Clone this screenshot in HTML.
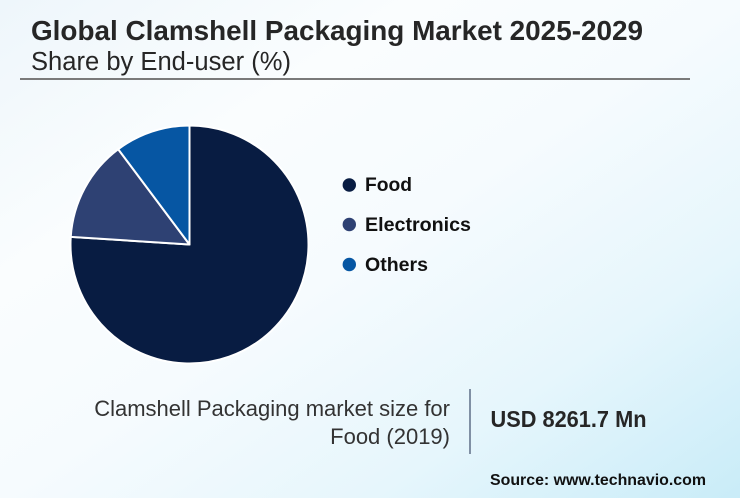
<!DOCTYPE html>
<html>
<head>
<meta charset="utf-8">
<style>
  html, body { margin:0; padding:0; }
  body { width:740px; height:498px; overflow:hidden; }
  .bg {
    position:absolute; left:0; top:0; width:740px; height:498px;
    background: linear-gradient(to bottom right, #eef6fb 0%, #fafdfe 28%, #f6fbfe 50%, #e6f6fc 75%, #c9ecf8 100%);
  }
  svg { position:absolute; left:0; top:0; }
  text { font-family: "Liberation Sans", Arial, sans-serif; }
</style>
</head>
<body>
<div class="bg"></div>
<svg width="740" height="498" viewBox="0 0 740 498" xmlns="http://www.w3.org/2000/svg">
  <!-- Title -->
  <text x="31" y="40" font-size="27.5" font-weight="bold" fill="#262626" textLength="612" lengthAdjust="spacingAndGlyphs">Global Clamshell Packaging Market 2025-2029</text>
  <text x="31" y="70" font-size="25.5" fill="#262626" textLength="260" lengthAdjust="spacingAndGlyphs">Share by End-user (%)</text>
  <rect x="20" y="78" width="670" height="2" fill="#7a7a7a"/>

  <!-- Pie -->
  <g stroke="#ffffff" stroke-width="2" stroke-linejoin="round">
    <path d="M189.5,244.5 L189.5,125.5 A119,119 0 1 1 70.75,236.82 Z" fill="#081c42"/>
    <path d="M189.5,244.5 L70.75,236.82 A119,119 0 0 1 118.22,149.22 Z" fill="#2e4173"/>
    <path d="M189.5,244.5 L118.22,149.22 A119,119 0 0 1 189.5,125.5 Z" fill="#0656a3"/>
  </g>

  <!-- Legend -->
  <circle cx="349.3" cy="185" r="6.7" fill="#081c42"/>
  <text x="365" y="191" font-size="19" font-weight="bold" fill="#111" textLength="47" lengthAdjust="spacingAndGlyphs">Food</text>
  <circle cx="349.3" cy="224.5" r="6.7" fill="#2e4173"/>
  <text x="365" y="231" font-size="19" font-weight="bold" fill="#111" textLength="106" lengthAdjust="spacingAndGlyphs">Electronics</text>
  <circle cx="349.3" cy="264.5" r="6.7" fill="#0656a3"/>
  <text x="365" y="271" font-size="19" font-weight="bold" fill="#111" textLength="63" lengthAdjust="spacingAndGlyphs">Others</text>

  <!-- Bottom info -->
  <text x="450" y="416" font-size="22" fill="#333" text-anchor="end">Clamshell Packaging market size for</text>
  <text x="450" y="444" font-size="22" fill="#333" text-anchor="end">Food (2019)</text>
  <rect x="469" y="389" width="2" height="65" fill="#8090a4"/>
  <text x="490.5" y="427" font-size="23" font-weight="bold" fill="#262626" textLength="156" lengthAdjust="spacingAndGlyphs">USD 8261.7 Mn</text>
  <text x="490" y="485" font-size="15.5" font-weight="bold" fill="#111" textLength="216" lengthAdjust="spacingAndGlyphs">Source: www.technavio.com</text>
</svg>
</body>
</html>
